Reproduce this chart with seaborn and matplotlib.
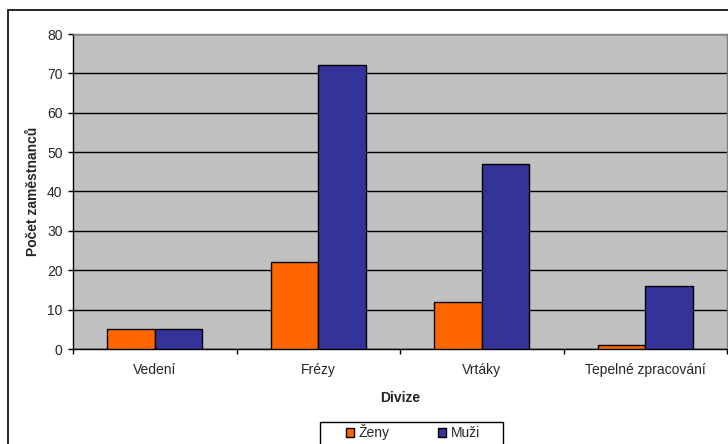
import matplotlib
matplotlib.use("Agg")
import matplotlib.pyplot as plt
import matplotlib.patches as mpatches
import seaborn as sns
import pandas as pd

divisions = ["Vedení", "Frézy", "Vrtáky", "Tepelné zpracování"]
series = ["Ženy", "Muži"]
zeny = [5, 22, 12, 1]
muzi = [5, 72, 47, 16]
colors = ["#FF6600", "#333399"]

df = pd.DataFrame({
    "Divize": divisions * 2,
    "Pohlaví": [series[0]] * 4 + [series[1]] * 4,
    "Počet": zeny + muzi,
})

sns.set_style("white")
plt.rcParams["font.family"] = ["Liberation Sans", "DejaVu Sans"]

fig = plt.figure(figsize=(7.28, 4.44), dpi=100)
W, H = 728, 444
ax = fig.add_axes([73 / W, (H - 349) / H, (727 - 73) / W, (349 - 34) / H])

sns.barplot(data=df, x="Divize", y="Počet", hue="Pohlaví", order=divisions,
            hue_order=series, palette=colors, width=0.58, gap=0,
            edgecolor="black", linewidth=1, saturation=1, ax=ax, zorder=3,
            legend=False)

ax.set_facecolor("#C0C0C0")
ax.set_ylim(0, 80)
ax.set_xlim(-0.5, 3.5)
ax.set_yticks(range(0, 81, 10))
ax.yaxis.grid(True, color="black", linewidth=1)
ax.set_axisbelow(True)

for side in ["top", "right"]:
    ax.spines[side].set_color("#808080")
    ax.spines[side].set_linewidth(1)
for side in ["left", "bottom"]:
    ax.spines[side].set_color("black")
    ax.spines[side].set_linewidth(1)

ax.tick_params(axis="y", which="major", direction="out", length=3.6, width=1,
               color="black", labelsize=10, pad=4, left=True)
ax.tick_params(axis="x", which="major", length=0, labelsize=10, pad=10)
ax.set_xticks([-0.5, 0.5, 1.5, 2.5, 3.5], minor=True)
ax.tick_params(axis="x", which="minor", direction="out", length=3.6, width=1,
               color="black", bottom=True)

ax.set_xlabel("Divize", fontsize=10, fontweight="bold", labelpad=10)
ax.set_ylabel("Počet zaměstnanců", fontsize=10, fontweight="bold", labelpad=5)

# Outer chart frame
fig.patches.append(mpatches.Rectangle((8 / W, -0.2), 1.2, (H - 10) / H + 0.2,
                                      transform=fig.transFigure, fill=False,
                                      edgecolor="black", linewidth=1.2))

# Legend frame
fig.patches.append(mpatches.Rectangle((320 / W, -0.2), (503 - 320) / W,
                                      (H - 422) / H + 0.2,
                                      transform=fig.transFigure, fill=False,
                                      edgecolor="black", linewidth=1))

handles = [mpatches.Patch(facecolor=c, edgecolor="black", linewidth=1)
           for c in colors]
leg = fig.legend(handles, series, loc="upper left",
                 bbox_to_anchor=(346 / W, (H - 424) / H), ncol=2,
                 frameon=False, fontsize=10, handlelength=0.6,
                 handleheight=0.6, handletextpad=0.3, columnspacing=3.5,
                 borderpad=0, borderaxespad=0)

fig.savefig("out.png", dpi=100)
